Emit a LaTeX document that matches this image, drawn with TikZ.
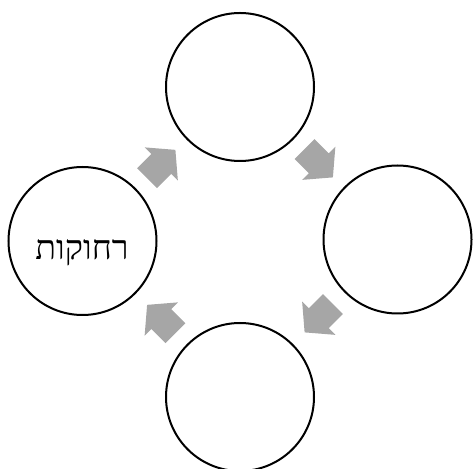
\documentclass[tikz,border=0pt]{standalone}
\usepackage{fontspec}
\usetikzlibrary{calc}
\TeXXeTstate=1
\newfontfamily\hebfont[Script=Hebrew]{Liberation Serif}
\definecolor{arrowgray}{HTML}{A6A6A6}
\tikzset{
  stage/.style={circle, draw=black, line width=2pt, minimum size=148pt, inner sep=0pt, fill=white},
  arrowfill/.style={fill=arrowgray, draw=none},
  lbl/.style={font=\hebfont\fontsize{34}{38}\selectfont, inner sep=0pt}
}
\newcommand\blockarrow[2]{%
  \fill[arrowfill, shift={(#1)}, rotate=#2]
    (-20,14) -- (0,14) -- (0,23.5) -- (20,0) -- (0,-23.5) -- (0,-14) -- (-20,-14) -- cycle;}
\begin{document}
\begin{tikzpicture}[x=1pt,y=1pt]
  \useasboundingbox (0,0) rectangle (473,468);
  \clip (0,0) rectangle (473,468);
  \node[stage] (top) at (240,381) {};
  \node[stage] (right) at (397.5,228.5) {};
  \node[stage] (bottom) at (240,71) {};
  \node[stage] (left) at (82.5,227) {};
  \node[lbl, anchor=base] (lefttext) at (82,208) {\beginR רחוקות\endR};
  \coordinate (m1) at ($(left)!0.5!(top)$);
  \coordinate (m2) at ($(top)!0.5!(right)$);
  \coordinate (m3) at ($(right)!0.5!(bottom)$);
  \coordinate (m4) at ($(bottom)!0.5!(left)$);
  \blockarrow{m1}{45}
  \blockarrow{m2}{-45}
  \blockarrow{m3}{-135}
  \blockarrow{m4}{135}
\end{tikzpicture}
\end{document}
